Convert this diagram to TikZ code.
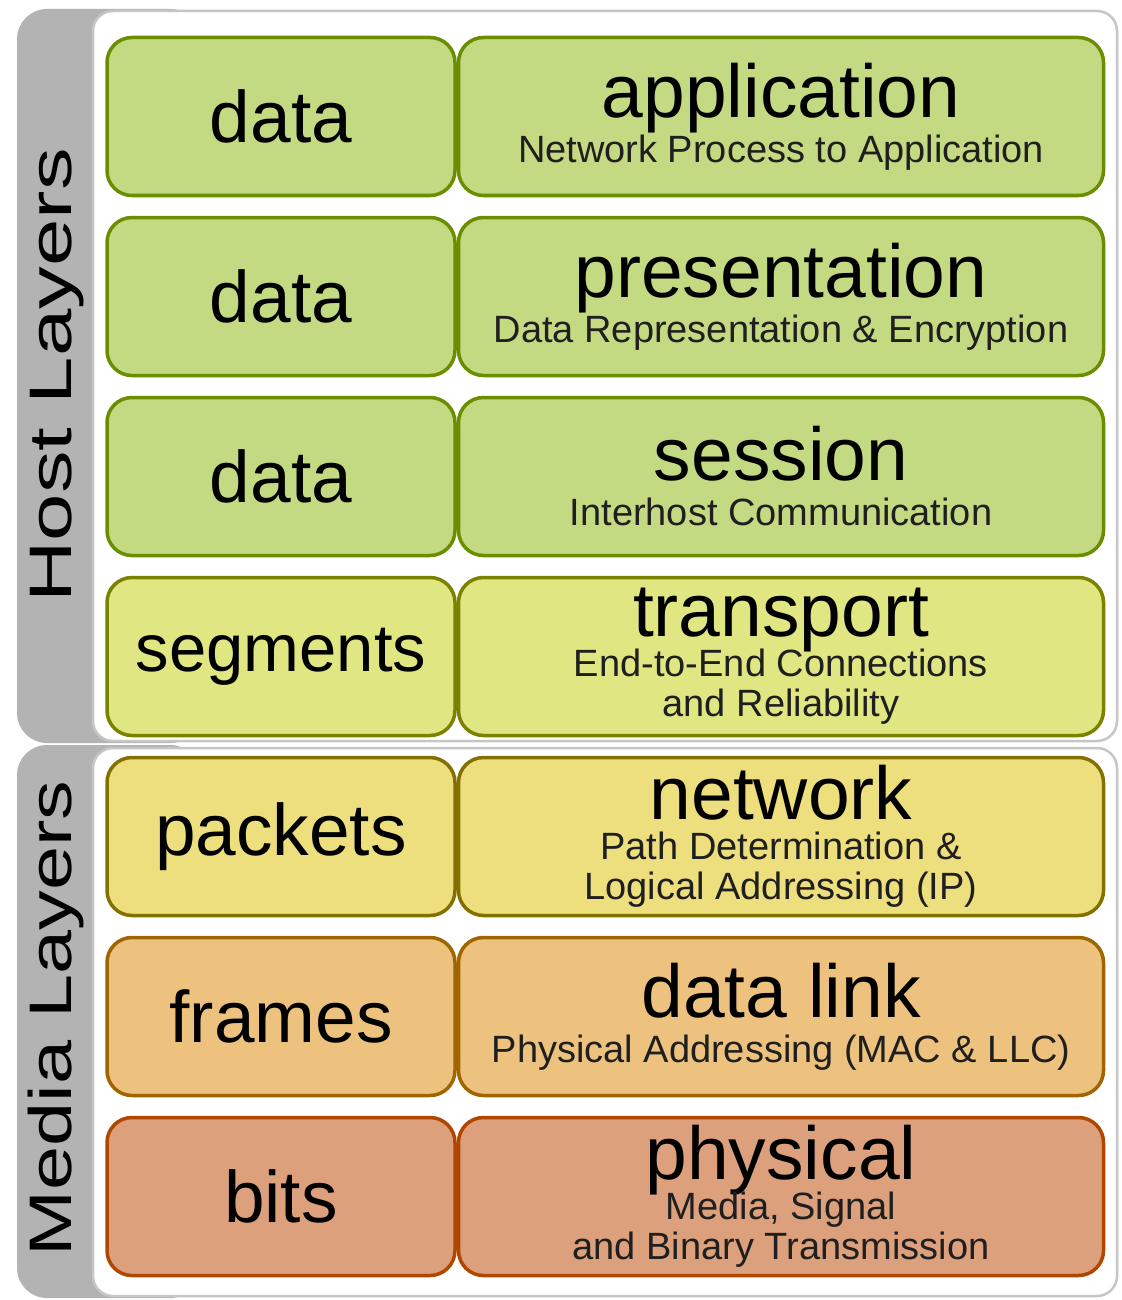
\documentclass[tikz,border=0pt]{standalone}
\usepackage{fontspec}
\setmainfont{Liberation Sans}
\usetikzlibrary{positioning}
\definecolor{tabgray}{HTML}{B3B3B3}
\definecolor{panelline}{HTML}{C6C6C6}
\tikzset{
    unit/.style={
        draw, rounded corners=25pt, line width=3.5pt,
        minimum width=348pt, minimum height=158pt, inner sep=0pt,
        font=\fontsize{73}{73}\selectfont
    },
    layer/.style={
        unit, minimum width=645pt, align=center, text=black!88,
        font={\fontsize{38}{40}\selectfont\lineskiplimit=-100pt}
    },
    leaf/.style={fill={rgb,255:red,196;green,218;blue,130}, draw={rgb,255:red,106;green,142;blue,0}},
    lime/.style={fill={rgb,255:red,224;green,230;blue,130}, draw={rgb,255:red,122;green,130;blue,0}},
    straw/.style={fill={rgb,255:red,237;green,222;blue,126}, draw={rgb,255:red,132;green,112;blue,0}},
    amber/.style={fill={rgb,255:red,237;green,194;blue,126}, draw={rgb,255:red,160;green,100;blue,0}},
    clay/.style={fill={rgb,255:red,220;green,160;blue,124}, draw={rgb,255:red,176;green,70;blue,0}},
    tab/.style={fill=tabgray, rounded corners=30pt},
    panel/.style={fill=white, draw=panelline, line width=2.5pt, rounded corners=20pt},
    side/.style={rotate=90, anchor=base, font=\fontsize{60}{60}\selectfont}
}
\newcommand\layername[1]{{\fontsize{75}{75}\selectfont\color{black}#1}}

\begin{document}
\begin{tikzpicture}[x=1pt, y=-1pt, node distance = 18.5pt and 0pt]
\useasboundingbox (0,0) rectangle (1121,1300);
\fill[tab] (17,9) rectangle (200,743);
\fill[tab] (17,745) rectangle (200,1298);
\filldraw[panel] (93,11) rectangle (1117,741);
\filldraw[panel] (93,748) rectangle (1117,1296);

\node[side] (H) at (71,375.5) {\scalebox{1.42}[1]{Host Layers}};
\node[side] (M) at (71,1018.5) {\scalebox{1.32}[1]{Media Layers}};

\node[unit, leaf]                (D1) at (281,116.5) {data};
\node[unit, leaf, below=of D1]   (D2) {data};
\node[unit, leaf, below=of D2]   (D3) {data};
\node[unit, lime, below=of D3, font=\fontsize{67}{67}\selectfont] (D4) {segments};
\node[unit, straw, below=of D4]  (D5) {packets};
\node[unit, amber, below=of D5]  (D6) {frames};
\node[unit, clay, below=of D6]   (D7) {bits};

\node[layer, leaf, right=of D1]  (L1) {\layername{application}\\[5pt] Network Process to Application};
\node[layer, leaf, right=of D2]  (L2) {\layername{presentation}\\[5pt] Data Representation \& Encryption};
\node[layer, leaf, right=of D3]  (L3) {\layername{session}\\[5pt] Interhost Communication};
\node[layer, lime, right=of D4]  (L4) {\layername{transport}\\ End-to-End Connections\\ and Reliability};
\node[layer, straw, right=of D5] (L5) {\layername{network}\\ Path Determination \&\\ Logical Addressing (IP)};
\node[layer, amber, right=of D6] (L6) {\layername{data link}\\[5pt] Physical Addressing (MAC \& LLC)};
\node[layer, clay, right=of D7]  (L7) {\layername{physical}\\ Media, Signal\\ and Binary Transmission};
\end{tikzpicture}
\end{document}
